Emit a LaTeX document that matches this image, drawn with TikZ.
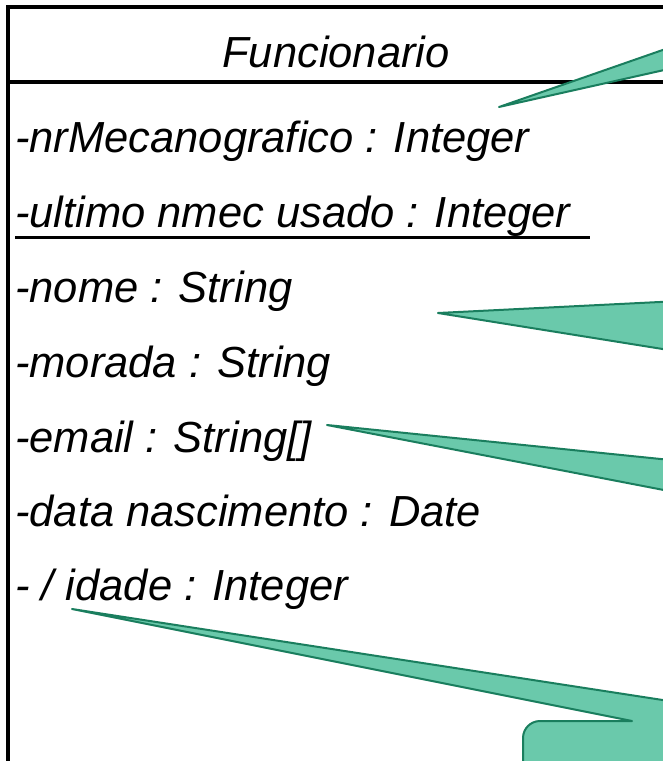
\documentclass[tikz,border=0pt]{standalone}
\usepackage{fontspec}
\setmainfont{Liberation Sans}
\definecolor{calfill}{RGB}{106,201,171}
\definecolor{caledge}{RGB}{26,126,94}
\tikzset{
  attr/.style={anchor=base west, inner sep=0pt, font=\fontsize{43.5}{50}\selectfont\itshape},
  classline/.style={line width=3.2pt, draw=black},
  callout/.style={fill=calfill, draw=caledge, line width=2pt, line join=round}
}
\begin{document}
\begin{tikzpicture}[x=1pt,y=-1pt]
\useasboundingbox (0,0) rectangle (663,761);
\clip (0,0) rectangle (663,761);
\fill[white] (0,0) rectangle (663,761);
% class box
\draw[classline] (8,800) -- (8,7) -- (700,7);
\draw[classline] (8,82) -- (700,82);
\node[anchor=base, inner sep=0pt, font=\fontsize{43.5}{50}\selectfont\itshape] (title) at (336,67) {Funcionario};
\node[attr] (a1) at (15,152) {-nrMecanografico : Integer};
\node[attr] (a2) at (15,227) {-ultimo nmec usado : Integer};
\draw[line width=3pt] (15,237) -- (590,237);
\node[attr] (a3) at (15,302) {-nome : String};
\node[attr] (a4) at (15,377) {-morada : String};
\node[attr] (a5) at (15,452) {-email : String[]};
\node[attr] (a6) at (15,526) {-data nascimento : Date};
\node[attr] (a7) at (15,600) {- / idade : Integer};
% callouts
\coordinate (t1) at (499,107);
\coordinate (t2) at (438,313);
\coordinate (t3) at (327,425);
\coordinate (t4) at (72,609);
\draw[callout] (t1) -- (700,37) -- (700,62) -- cycle;
\draw[callout] (t2) -- (700,300) -- (700,355) -- cycle;
\draw[callout] (t3) -- (700,463) -- (700,497) -- cycle;
\draw[callout] (t4) -- (632,721) -- (540,721) arc[start angle=270, end angle=180, radius=17] -- (523,800) -- (700,800) -- (700,721) -- (799,721) -- cycle;
\end{tikzpicture}
\end{document}
